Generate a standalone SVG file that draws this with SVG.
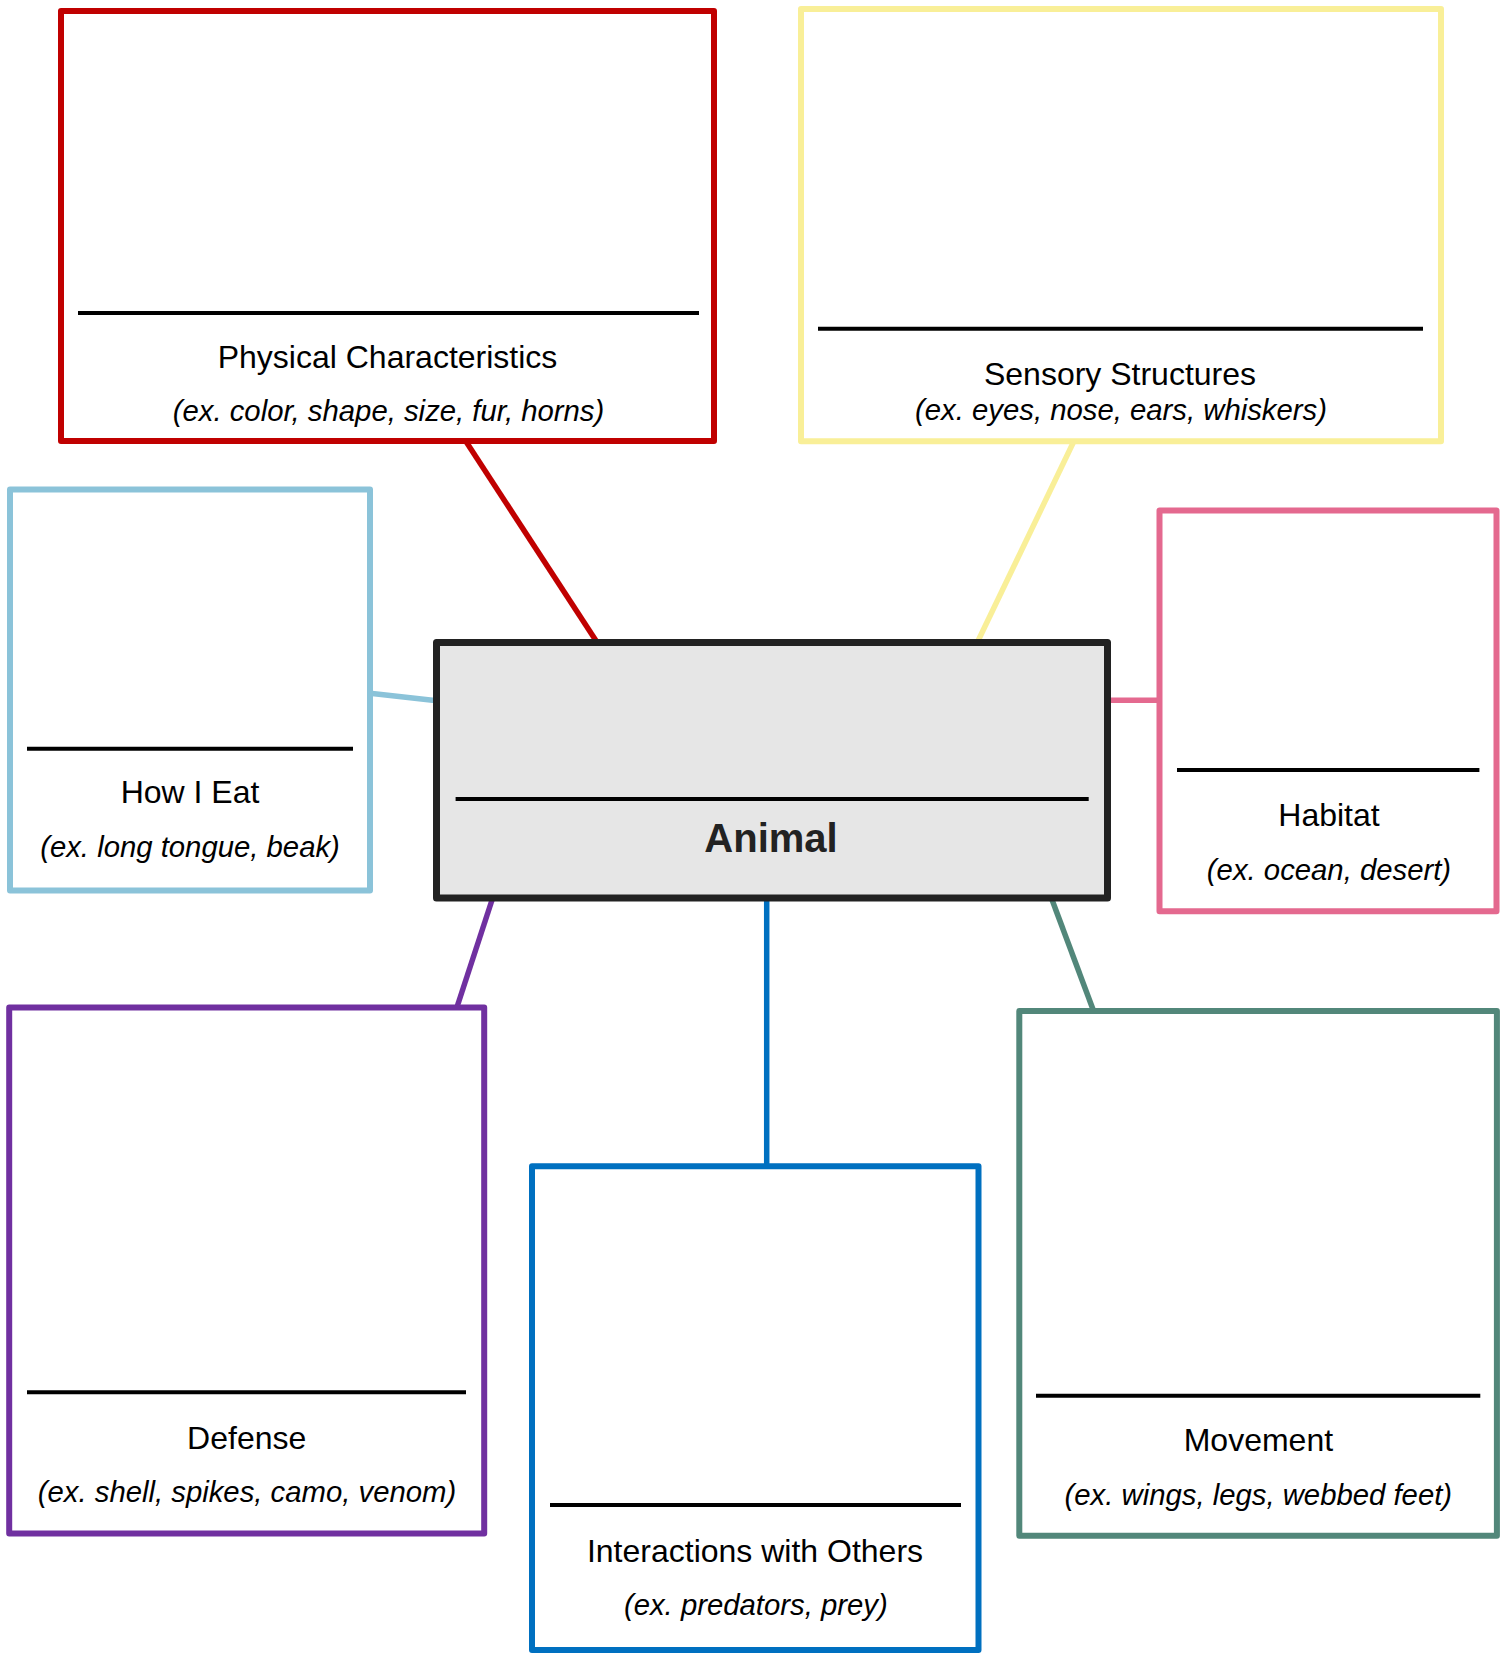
<svg xmlns="http://www.w3.org/2000/svg" width="1507" height="1653" viewBox="0 0 1507 1653">
<style>
  .box { fill: #ffffff; stroke-width: 6; stroke-linejoin: round; }
  .div { stroke: #000000; stroke-width: 4; }
  .conn { fill: none; stroke-width: 5.5; }
  .title { font-family: "Liberation Sans", Arial, sans-serif; font-size: 32px; fill: #000000; text-anchor: middle; }
  .sub { font-family: "Liberation Sans", Arial, sans-serif; font-size: 29.3px; font-style: italic; fill: #000000; text-anchor: middle; }
  .main { font-family: "Liberation Sans", Arial, sans-serif; font-size: 40px; font-weight: bold; fill: #222222; text-anchor: middle; }
</style>
<rect x="0" y="0" width="1507" height="1653" fill="#ffffff"/>
<g id="connectors">
  <line class="conn" x1="465" y1="440" x2="597.5" y2="643" stroke="#c00000"/>
  <line class="conn" x1="1074" y1="441" x2="977" y2="643" stroke="#f9ef98"/>
  <line class="conn" x1="370" y1="693.3" x2="437" y2="700.7" stroke="#8bc3d9"/>
  <line class="conn" x1="1107" y1="700.3" x2="1160" y2="700.3" stroke="#e4698f"/>
  <line class="conn" x1="493" y1="897" x2="457" y2="1007" stroke="#7030a0"/>
  <line class="conn" x1="766.7" y1="897" x2="766.7" y2="1166" stroke="#0070c0"/>
  <line class="conn" x1="1051" y1="897" x2="1093.6" y2="1011" stroke="#52877a"/>
</g>
<g id="physical">
  <rect class="box" x="61" y="11" width="653" height="430" stroke="#c00000"/>
  <line class="div" x1="78" y1="313" x2="699" y2="313"/>
  <text class="title" x="387.5" y="367.7">Physical Characteristics</text>
  <text class="sub" x="388.5" y="421">(ex. color, shape, size, fur, horns)</text>
</g>
<g id="sensory">
  <rect class="box" x="801" y="9" width="640" height="432.3" stroke="#f9ef98"/>
  <line class="div" x1="818" y1="328.8" x2="1423" y2="328.8"/>
  <text class="title" x="1120" y="385">Sensory Structures</text>
  <text class="sub" x="1121" y="420">(ex. eyes, nose, ears, whiskers)</text>
</g>
<g id="eat">
  <rect class="box" x="10" y="489.5" width="360" height="401" stroke="#8bc3d9"/>
  <line class="div" x1="27" y1="748.7" x2="353" y2="748.7"/>
  <text class="title" x="190" y="803.3">How I Eat</text>
  <text class="sub" x="190" y="857">(ex. long tongue, beak)</text>
</g>
<g id="habitat">
  <rect class="box" x="1159.5" y="510.5" width="337" height="400.8" stroke="#e4698f"/>
  <line class="div" x1="1177" y1="770" x2="1479.4" y2="770"/>
  <text class="title" x="1329" y="826">Habitat</text>
  <text class="sub" x="1329" y="879.5">(ex. ocean, desert)</text>
</g>
<g id="animal">
  <rect x="436.5" y="642.5" width="671" height="255.5" fill="#e6e6e6" stroke="#222222" stroke-width="7" stroke-linejoin="round"/>
  <line class="div" x1="455.6" y1="799" x2="1088.7" y2="799"/>
  <text class="main" x="771" y="852">Animal</text>
</g>
<g id="defense">
  <rect class="box" x="9.2" y="1007.6" width="475" height="526" stroke="#7030a0"/>
  <line class="div" x1="27" y1="1392.3" x2="466" y2="1392.3"/>
  <text class="title" x="246.7" y="1449">Defense</text>
  <text class="sub" x="247" y="1502">(ex. shell, spikes, camo, venom)</text>
</g>
<g id="interactions">
  <rect class="box" x="532" y="1166.3" width="446.5" height="483.7" stroke="#0070c0"/>
  <line class="div" x1="550" y1="1505" x2="961" y2="1505"/>
  <text class="title" x="755" y="1561.9">Interactions with Others</text>
  <text class="sub" x="755.8" y="1615">(ex. predators, prey)</text>
</g>
<g id="movement">
  <rect class="box" x="1019.3" y="1011" width="477.6" height="524.8" stroke="#52877a"/>
  <line class="div" x1="1036" y1="1395.7" x2="1480.3" y2="1395.7"/>
  <text class="title" x="1258.4" y="1451.4">Movement</text>
  <text class="sub" x="1258.3" y="1504.5">(ex. wings, legs, webbed feet)</text>
</g>
</svg>
